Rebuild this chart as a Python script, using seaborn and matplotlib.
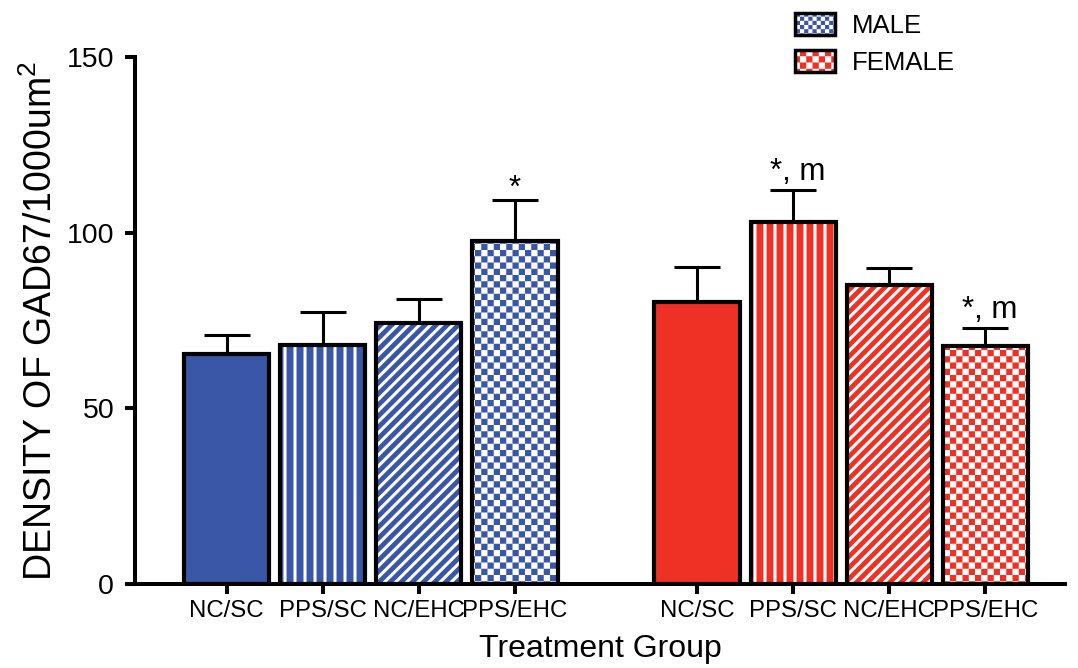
import warnings

import numpy as np
import pandas as pd
import matplotlib
matplotlib.use("Agg")
import matplotlib.pyplot as plt
from matplotlib import hatch as mhatch
from matplotlib.path import Path
from matplotlib.patches import Patch, Rectangle
import seaborn as sns

warnings.filterwarnings("ignore", message=".*hatch must consist.*")

# ---- data -------------------------------------------------------------
treatments = ["NC/SC", "PPS/SC", "NC/EHC", "PPS/EHC"]
sexes = ["MALE", "FEMALE"]
male_mean = [65.4, 68.1, 74.4, 97.6]
male_sem = [5.4, 9.4, 6.8, 11.7]
female_mean = [80.3, 103.0, 85.2, 67.7]
female_sem = [10.0, 9.1, 4.8, 5.1]
male_marks = ["", "", "", "*"]
female_marks = ["", "*, m", "", "*, m"]

# ---- styling ----------------------------------------------------------
BLUE = "#3a56a6"
RED = "#ee3124"
HATCH_LW = 2.2
treatment_hatch = {"NC/SC": None, "PPS/SC": "vv", "NC/EHC": "///", "PPS/EHC": "cccc"}


class CheckerHatch(mhatch.HatchPatternBase):
    """Filled checkerboard cells; each 'c' adds four cells per tile side."""

    def __init__(self, hatch, density):
        self.n = 4 * hatch.count("c")
        self.cells = [(i, j) for i in range(self.n) for j in range(self.n)
                      if (i + j) % 2 == 0]
        self.num_vertices = 5 * len(self.cells)

    def set_vertices_and_codes(self, vertices, codes):
        step = 1.0 / self.n
        inset = HATCH_LW / 144.0  # compensate for the hatch stroke width
        for k, (i, j) in enumerate(self.cells):
            x0, y0 = i * step + inset, j * step + inset
            x1, y1 = (i + 1) * step - inset, (j + 1) * step - inset
            vertices[5 * k:5 * k + 5] = [(x0, y0), (x1, y0), (x1, y1),
                                         (x0, y1), (x0, y0)]
            codes[5 * k:5 * k + 5] = [Path.MOVETO, Path.LINETO, Path.LINETO,
                                      Path.LINETO, Path.CLOSEPOLY]


class StripeHatch(mhatch.HatchPatternBase):
    """Vertical stripes; each 'v' adds five lines per tile."""

    def __init__(self, hatch, density):
        self.num_lines = 5 * hatch.count("v")
        self.num_vertices = 2 * self.num_lines

    def set_vertices_and_codes(self, vertices, codes):
        steps, stepsize = np.linspace(0.0, 1.0, self.num_lines, False,
                                      retstep=True)
        steps += stepsize / 2.0
        vertices[0::2, 0] = steps
        vertices[0::2, 1] = 0.0
        vertices[1::2, 0] = steps
        vertices[1::2, 1] = 1.0
        codes[0::2] = Path.MOVETO
        codes[1::2] = Path.LINETO


mhatch._hatch_types.extend([CheckerHatch, StripeHatch])

sns.set_style("ticks")
plt.rcParams["font.family"] = ["Liberation Sans", "DejaVu Sans"]
plt.rcParams["hatch.linewidth"] = HATCH_LW
plt.rcParams["text.color"] = "black"
plt.rcParams["axes.labelcolor"] = "black"
plt.rcParams["xtick.color"] = "black"
plt.rcParams["ytick.color"] = "black"

# male group at 0..3, female group after a gap
positions = list(range(4)) + [4.9 + i for i in range(4)]

df = pd.DataFrame({
    "sex": np.repeat(sexes, len(treatments)),
    "treatment": treatments * 2,
    "density": male_mean + female_mean,
    "sem": male_sem + female_sem,
    "mark": male_marks + female_marks,
})
df["pos"] = positions

fig = plt.figure(figsize=(10.78, 6.68), dpi=100)
ax = fig.add_axes([135 / 1078, 84 / 668, 930 / 1078, 527 / 668])

sns.barplot(data=df, x="pos", y="density", hue="sex",
            palette={"MALE": BLUE, "FEMALE": RED}, saturation=1,
            native_scale=True, dodge=False, width=0.89, errorbar=None,
            legend=False, edgecolor="white", linewidth=0, ax=ax, zorder=1)

pos_arr = np.asarray(positions, dtype=float)
for bar in list(ax.patches):
    cx = bar.get_x() + bar.get_width() / 2
    idx = int(np.argmin(np.abs(pos_arr - cx)))
    bar.set_hatch(treatment_hatch[df["treatment"].iloc[idx]])
    ax.add_patch(Rectangle(bar.get_xy(), bar.get_width(), bar.get_height(),
                           fill=False, edgecolor="black", linewidth=3,
                           zorder=3))

# upper error bars only
ax.errorbar(df["pos"], df["density"],
            yerr=[np.zeros(len(df)), df["sem"]], fmt="none",
            ecolor="black", elinewidth=2.2, capsize=16.5, capthick=2.2,
            zorder=0.5)

for p, m, s, mark in zip(df["pos"], df["density"], df["sem"], df["mark"]):
    if mark:
        off = 1.0 if mark == "*" else 3.0
        ax.text(p + (0.05 if len(mark) > 1 else 0), m + s + off, mark,
                ha="center", va="baseline", fontsize=22.5)

ax.set_xlim(-0.955, 8.73)
ax.set_ylim(0, 150)
ax.set_yticks([0, 50, 100, 150])
ax.set_xticks(positions)
ax.set_xticklabels(df["treatment"])
ax.tick_params(axis="both", length=7, width=2.9, color="black")
ax.tick_params(axis="y", labelsize=20.5, pad=8)
ax.tick_params(axis="x", labelsize=17.3, pad=4.5)
sns.despine(ax=ax)
for side in ("left", "bottom"):
    ax.spines[side].set_linewidth(2.9)
    ax.spines[side].set_color("black")

ax.set_ylabel("DENSITY OF GAD67/1000um$\\mathregular{^2}$", fontsize=27,
              labelpad=5)
ax.set_xlabel("Treatment Group", fontsize=23, labelpad=9)

legend_handles = [
    (Patch(facecolor=BLUE, edgecolor="white", linewidth=0, hatch="cccccc"),
     Patch(fill=False, edgecolor="black", linewidth=2.5)),
    (Patch(facecolor=RED, edgecolor="white", linewidth=0, hatch="cccc"),
     Patch(fill=False, edgecolor="black", linewidth=2.5)),
]
fig.legend(legend_handles, sexes, loc="upper left",
           bbox_to_anchor=(795 / 1078, 1 - 13 / 668), frameon=False,
           fontsize=18.5, handlelength=1.56, handleheight=0.93,
           handletextpad=0.66, labelspacing=0.48, borderpad=0,
           borderaxespad=0)

fig.savefig("out.png", dpi=100)
